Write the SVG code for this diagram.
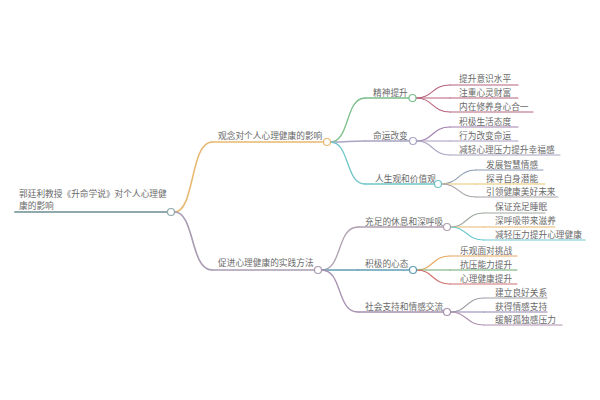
<svg xmlns="http://www.w3.org/2000/svg" width="600" height="400" viewBox="0 0 600 400">
<style>
text{font-family:"Noto Sans CJK SC","Noto Sans",sans-serif;font-size:8.7px;fill:#6a6a6a}
.c{fill:none;stroke-linecap:round}
.u{fill:none;stroke-linecap:round}
circle{fill:#fff;stroke-width:1.2}
</style>
<rect width="600" height="400" fill="#fff"/>
<g id="connectors" class="c">
<path d="M174.5 212 C195 212 190 142 212 142" stroke="#e8b870" stroke-width="1.6"/>
<path d="M174.5 212 C195 212 190 270 212 270" stroke="#a99cb2" stroke-width="1.6"/>
<path d="M330.5 142 C350 142 345 98 365 98" stroke="#7bbf8a" stroke-width="1.3"/>
<path d="M330.5 142 C348 142 348 141 365 141" stroke="#a9a3c4" stroke-width="1.3"/>
<path d="M330.5 142 C350 142 345 184 365 184" stroke="#6ec6c8" stroke-width="1.3"/>
<path d="M416 98 C433 98 432 85 450 85" stroke="#b8637d" stroke-width="1.1"/>
<path d="M416 98 H450" stroke="#b8637d" stroke-width="1.1"/>
<path d="M416 98 C433 98 432 112 450 112" stroke="#b8637d" stroke-width="1.1"/>
<path d="M416.5 141 C433 141 432 127 450 127" stroke="#a07fae" stroke-width="1.1"/>
<path d="M416.5 141 H450" stroke="#a99ac2" stroke-width="1.1"/>
<path d="M416.5 141 C433 141 432 155 450 155" stroke="#aaa4c0" stroke-width="1.1"/>
<path d="M441.5 184 C459 184 458 170 476 170" stroke="#8c9ab4" stroke-width="1.1"/>
<path d="M441.5 184 H476" stroke="#e6c66e" stroke-width="1.1"/>
<path d="M441.5 184 C459 184 458 197 476 197" stroke="#a8a2a8" stroke-width="1.1"/>
<path d="M321.5 270 C343 270 336 227 358 227" stroke="#b0a0b0" stroke-width="1.3"/>
<path d="M321.5 270 H358" stroke="#5f9db5" stroke-width="1.3"/>
<path d="M321.5 270 C343 270 336 312 358 312" stroke="#a890b0" stroke-width="1.3"/>
<path d="M450.5 227 C467 227 466 213 484 213" stroke="#a0aaa0" stroke-width="1.1"/>
<path d="M450.5 227 H484" stroke="#e8b870" stroke-width="1.1"/>
<path d="M450.5 227 C467 227 466 240 484 240" stroke="#6cc8d0" stroke-width="1.1"/>
<path d="M416.5 270 C433 270 432 256 450 256" stroke="#e8a860" stroke-width="1.1"/>
<path d="M416.5 270 H450" stroke="#6aaa70" stroke-width="1.1"/>
<path d="M416.5 270 C433 270 432 284 450 284" stroke="#d07070" stroke-width="1.1"/>
<path d="M450.5 312 C467 312 466 298 484 298" stroke="#a0a0a8" stroke-width="1.1"/>
<path d="M450.5 312 H484" stroke="#9080b0" stroke-width="1.1"/>
<path d="M450.5 312 C467 312 466 325 484 325" stroke="#b090b0" stroke-width="1.1"/>
</g>
<g id="root">
<path class="u" d="M15 212 H167.5" stroke="#8fa9ad" stroke-width="2"/>
<text x="19" y="197">郭廷利教授《升命学说》对个人心理健</text>
<text x="19" y="208.5">康的影响</text>
<circle cx="171" cy="212" r="3.5" stroke="#8fa9ad"/>
</g>
<g id="b1">
<path class="u" d="M212 142 H323.5" stroke="#e8b870" stroke-width="1.6"/>
<text x="218" y="138.5">观念对个人心理健康的影响</text>
<circle cx="327" cy="142" r="3.5" stroke="#e8b870"/>
</g>
<g id="b2">
<path class="u" d="M212 270 H314.5" stroke="#a99cb2" stroke-width="1.6"/>
<text x="218" y="266">促进心理健康的实践方法</text>
<circle cx="318" cy="270" r="3.5" stroke="#a99cb2"/>
</g>
<g id="b1a">
<path class="u" d="M365 98 H409" stroke="#7bbf8a" stroke-width="1.3"/>
<text x="373" y="96">精神提升</text>
<circle cx="412.5" cy="98" r="3.5" stroke="#7bbf8a"/>
</g>
<g id="b1b">
<path class="u" d="M365 141 H409.5" stroke="#a9a3c4" stroke-width="1.3"/>
<text x="373" y="138.5">命运改变</text>
<circle cx="413" cy="141" r="3.5" stroke="#a9a3c4"/>
</g>
<g id="b1c">
<path class="u" d="M365 184 H434.5" stroke="#6ec6c8" stroke-width="1.3"/>
<text x="375" y="181.5">人生观和价值观</text>
<circle cx="438" cy="184" r="3.5" stroke="#6ec6c8"/>
</g>
<g id="l1"><path class="u" d="M450 85 H518" stroke="#b8637d" stroke-width="1.1"/><text x="459" y="82">提升意识水平</text></g>
<g id="l2"><path class="u" d="M450 98 H518" stroke="#b8637d" stroke-width="1.1"/><text x="459" y="95.5">注重心灵财富</text></g>
<g id="l3"><path class="u" d="M450 112 H533" stroke="#b8637d" stroke-width="1.1"/><text x="459" y="109.5">内在修养身心合一</text></g>
<g id="l4"><path class="u" d="M450 127 H518" stroke="#a07fae" stroke-width="1.1"/><text x="459" y="124.5">积极生活态度</text></g>
<g id="l5"><path class="u" d="M450 141 H518" stroke="#a99ac2" stroke-width="1.1"/><text x="459" y="138.5">行为改变命运</text></g>
<g id="l6"><path class="u" d="M450 155 H560" stroke="#aaa4c0" stroke-width="1.1"/><text x="459" y="152.5">减轻心理压力提升幸福感</text></g>
<g id="l7"><path class="u" d="M476 170 H543" stroke="#8c9ab4" stroke-width="1.1"/><text x="486" y="167.5">发展智慧情感</text></g>
<g id="l8"><path class="u" d="M476 184 H545" stroke="#e6c66e" stroke-width="1.1"/><text x="486" y="181.5">探寻自身潜能</text></g>
<g id="l9"><path class="u" d="M476 197 H558" stroke="#a8a2a8" stroke-width="1.1"/><text x="486" y="194.5">引领健康美好未来</text></g>
<g id="b2a">
<path class="u" d="M358 227 H443.5" stroke="#b0a0b0" stroke-width="1.3"/>
<text x="365" y="225">充足的休息和深呼吸</text>
<circle cx="447" cy="227" r="3.5" stroke="#b0a0b0"/>
</g>
<g id="b2b">
<path class="u" d="M358 270 H409.5" stroke="#5f9db5" stroke-width="1.3"/>
<text x="365" y="266.5">积极的心态</text>
<circle cx="413" cy="270" r="3.5" stroke="#5f9db5"/>
</g>
<g id="b2c">
<path class="u" d="M358 312 H443.5" stroke="#a890b0" stroke-width="1.3"/>
<text x="365" y="310">社会支持和情感交流</text>
<circle cx="447" cy="312" r="3.5" stroke="#a890b0"/>
</g>
<g id="m1"><path class="u" d="M484 213 H545" stroke="#a0aaa0" stroke-width="1.1"/><text x="495" y="210">保证充足睡眠</text></g>
<g id="m2"><path class="u" d="M484 227 H555" stroke="#e8b870" stroke-width="1.1"/><text x="495" y="224">深呼吸带来滋养</text></g>
<g id="m3"><path class="u" d="M484 240 H585" stroke="#6cc8d0" stroke-width="1.1"/><text x="495" y="237.5">减轻压力提升心理健康</text></g>
<g id="m4"><path class="u" d="M450 256 H517" stroke="#e8a860" stroke-width="1.1"/><text x="460" y="254">乐观面对挑战</text></g>
<g id="m5"><path class="u" d="M450 270 H517" stroke="#6aaa70" stroke-width="1.1"/><text x="460" y="267.5">抗压能力提升</text></g>
<g id="m6"><path class="u" d="M450 284 H517" stroke="#d07070" stroke-width="1.1"/><text x="460" y="281.5">心理健康提升</text></g>
<g id="m7"><path class="u" d="M484 298 H547" stroke="#a0a0a8" stroke-width="1.1"/><text x="495" y="296">建立良好关系</text></g>
<g id="m8"><path class="u" d="M484 312 H547" stroke="#9080b0" stroke-width="1.1"/><text x="495" y="309.5">获得情感支持</text></g>
<g id="m9"><path class="u" d="M484 325 H562" stroke="#b090b0" stroke-width="1.1"/><text x="495" y="323">缓解孤独感压力</text></g>
</svg>
